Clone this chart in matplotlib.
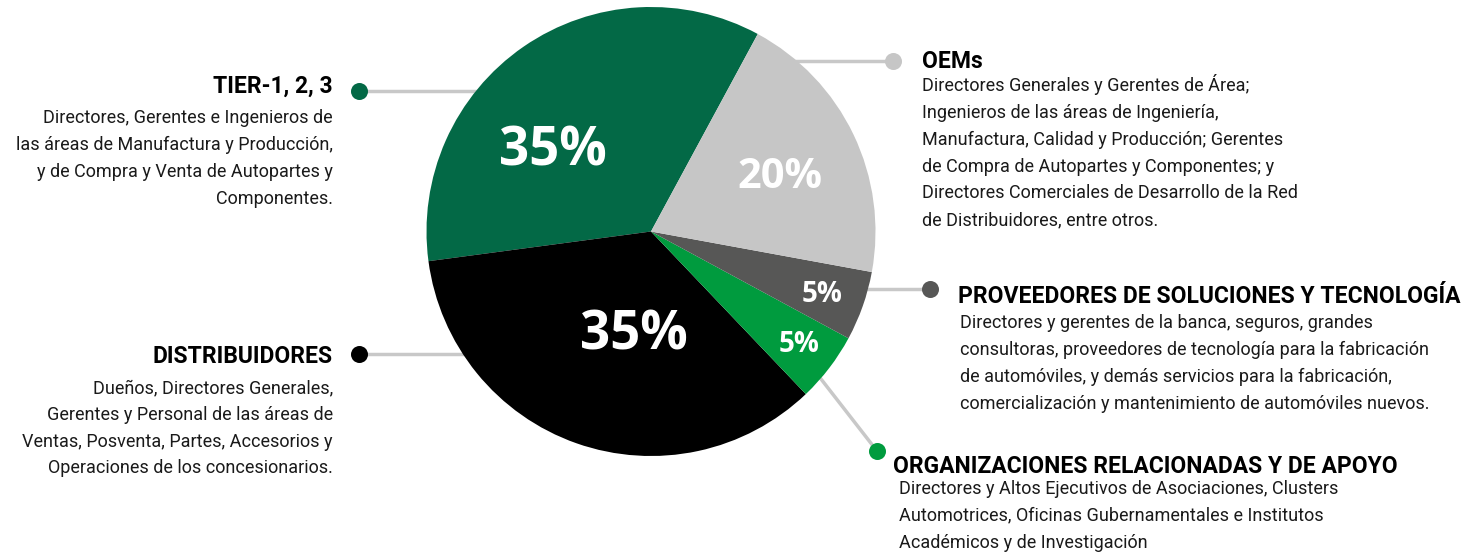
import matplotlib
matplotlib.use('Agg')
import matplotlib.pyplot as plt
from matplotlib import font_manager

# data
shares = [35, 35, 5, 5, 20]
pct_labels = ['35%', '35%', '5%', '5%', '20%']
colors = ['#036946', '#000000', '#009b3e', '#575756', '#c6c6c6']
pct_colors = ['white', 'white', 'white', 'white', 'white']

headings = ['TIER-1, 2, 3', 'DISTRIBUIDORES', 'ORGANIZACIONES RELACIONADAS Y DE APOYO',
            'PROVEEDORES DE SOLUCIONES Y TECNOLOGÍA', 'OEMs']
bodies = [
    'Directores, Gerentes e Ingenieros de\nlas áreas de Manufactura y Producción,\n'
    'y de Compra y Venta de Autopartes y\nComponentes.',
    'Dueños, Directores Generales,\nGerentes y Personal de las áreas de\n'
    'Ventas, Posventa, Partes, Accesorios y\nOperaciones de los concesionarios.',
    'Directores y Altos Ejecutivos de Asociaciones, Clusters\n'
    'Automotrices, Oficinas Gubernamentales e Institutos\nAcadémicos y de Investigación',
    'Directores y gerentes de la banca, seguros, grandes\n'
    'consultoras, proveedores de tecnología para la fabricación\n'
    'de automóviles, y demás servicios para la fabricación,\n'
    'comercialización y mantenimiento de automóviles nuevos.',
    'Directores Generales y Gerentes de Área;\nIngenieros de las áreas de Ingeniería,\n'
    'Manufactura, Calidad y Producción; Gerentes\nde Compra de Autopartes y Componentes; y\n'
    'Directores Comerciales de Desarrollo de la Red\nde Distribuidores, entre otros.',
]

# layout (pixel coordinates, y down)
cx, cy, rad = 651, 231.5, 224.5
pct_pos = [(553, 151), (634, 335), (799, 345), (822, 295), (780, 178)]
pct_size = [38, 38, 20, 20, 30]
dot_pos = [(359, 91), (359, 354), (877, 451), (930, 289), (893, 61)]
line_end = [(520, 91), (520, 354), (800, 352), (800, 289), (760, 61)]
head_pos = [(333, 93, 'right'), (333, 363, 'right'), (893, 473, 'left'),
            (958, 303, 'left'), (922, 68, 'left')]
body_pos = [(333, 109, 'right'), (333, 379, 'right'), (899, 480, 'left'),
            (960, 314, 'left'), (922, 74, 'left')]

names = {f.name for f in font_manager.fontManager.ttflist}
if 'Liberation Sans Narrow' in names:
    txt_font, head_size, body_size, lsp = 'Liberation Sans Narrow', 20, 13.6, 1.45
else:
    txt_font, head_size, body_size, lsp = 'Roboto', 16.5, 13, 1.63

fig = plt.figure(figsize=(14.71, 5.59), dpi=100)
ax = fig.add_axes([0, 0, 1, 1])

ax.pie(shares, colors=colors, center=(cx, cy), radius=rad, startangle=-61.6,
       counterclock=False, wedgeprops=dict(linewidth=0), frame=True)
for w in ax.patches:
    w.set_zorder(3)
ax.set_xlim(0, 1471)
ax.set_ylim(559, 0)
ax.set_aspect('equal')
ax.axis('off')

for i in range(len(shares)):
    x, y = pct_pos[i]
    ax.text(x, y, pct_labels[i], color=pct_colors[i], fontsize=pct_size[i],
            fontweight='bold', family='Open Sans', ha='center', va='center', zorder=5)
    (dx, dy), (lx, ly) = dot_pos[i], line_end[i]
    ax.plot([dx, lx], [dy, ly], color='#c8c8c8', lw=2.5, zorder=1)
    ax.scatter([dx], [dy], s=150, color=colors[i], zorder=4, linewidths=0)
    hx, hy, ha = head_pos[i]
    ax.text(hx, hy, headings[i], fontsize=head_size, fontweight='bold', family=txt_font,
            ha=ha, va='baseline', color='black')
    bx, by, ha = body_pos[i]
    ax.text(bx, by, bodies[i], fontsize=body_size, family=txt_font, ha=ha, va='top',
            ma=ha, linespacing=lsp, color='#1a1a1a')

fig.savefig('out.png', dpi=100)
